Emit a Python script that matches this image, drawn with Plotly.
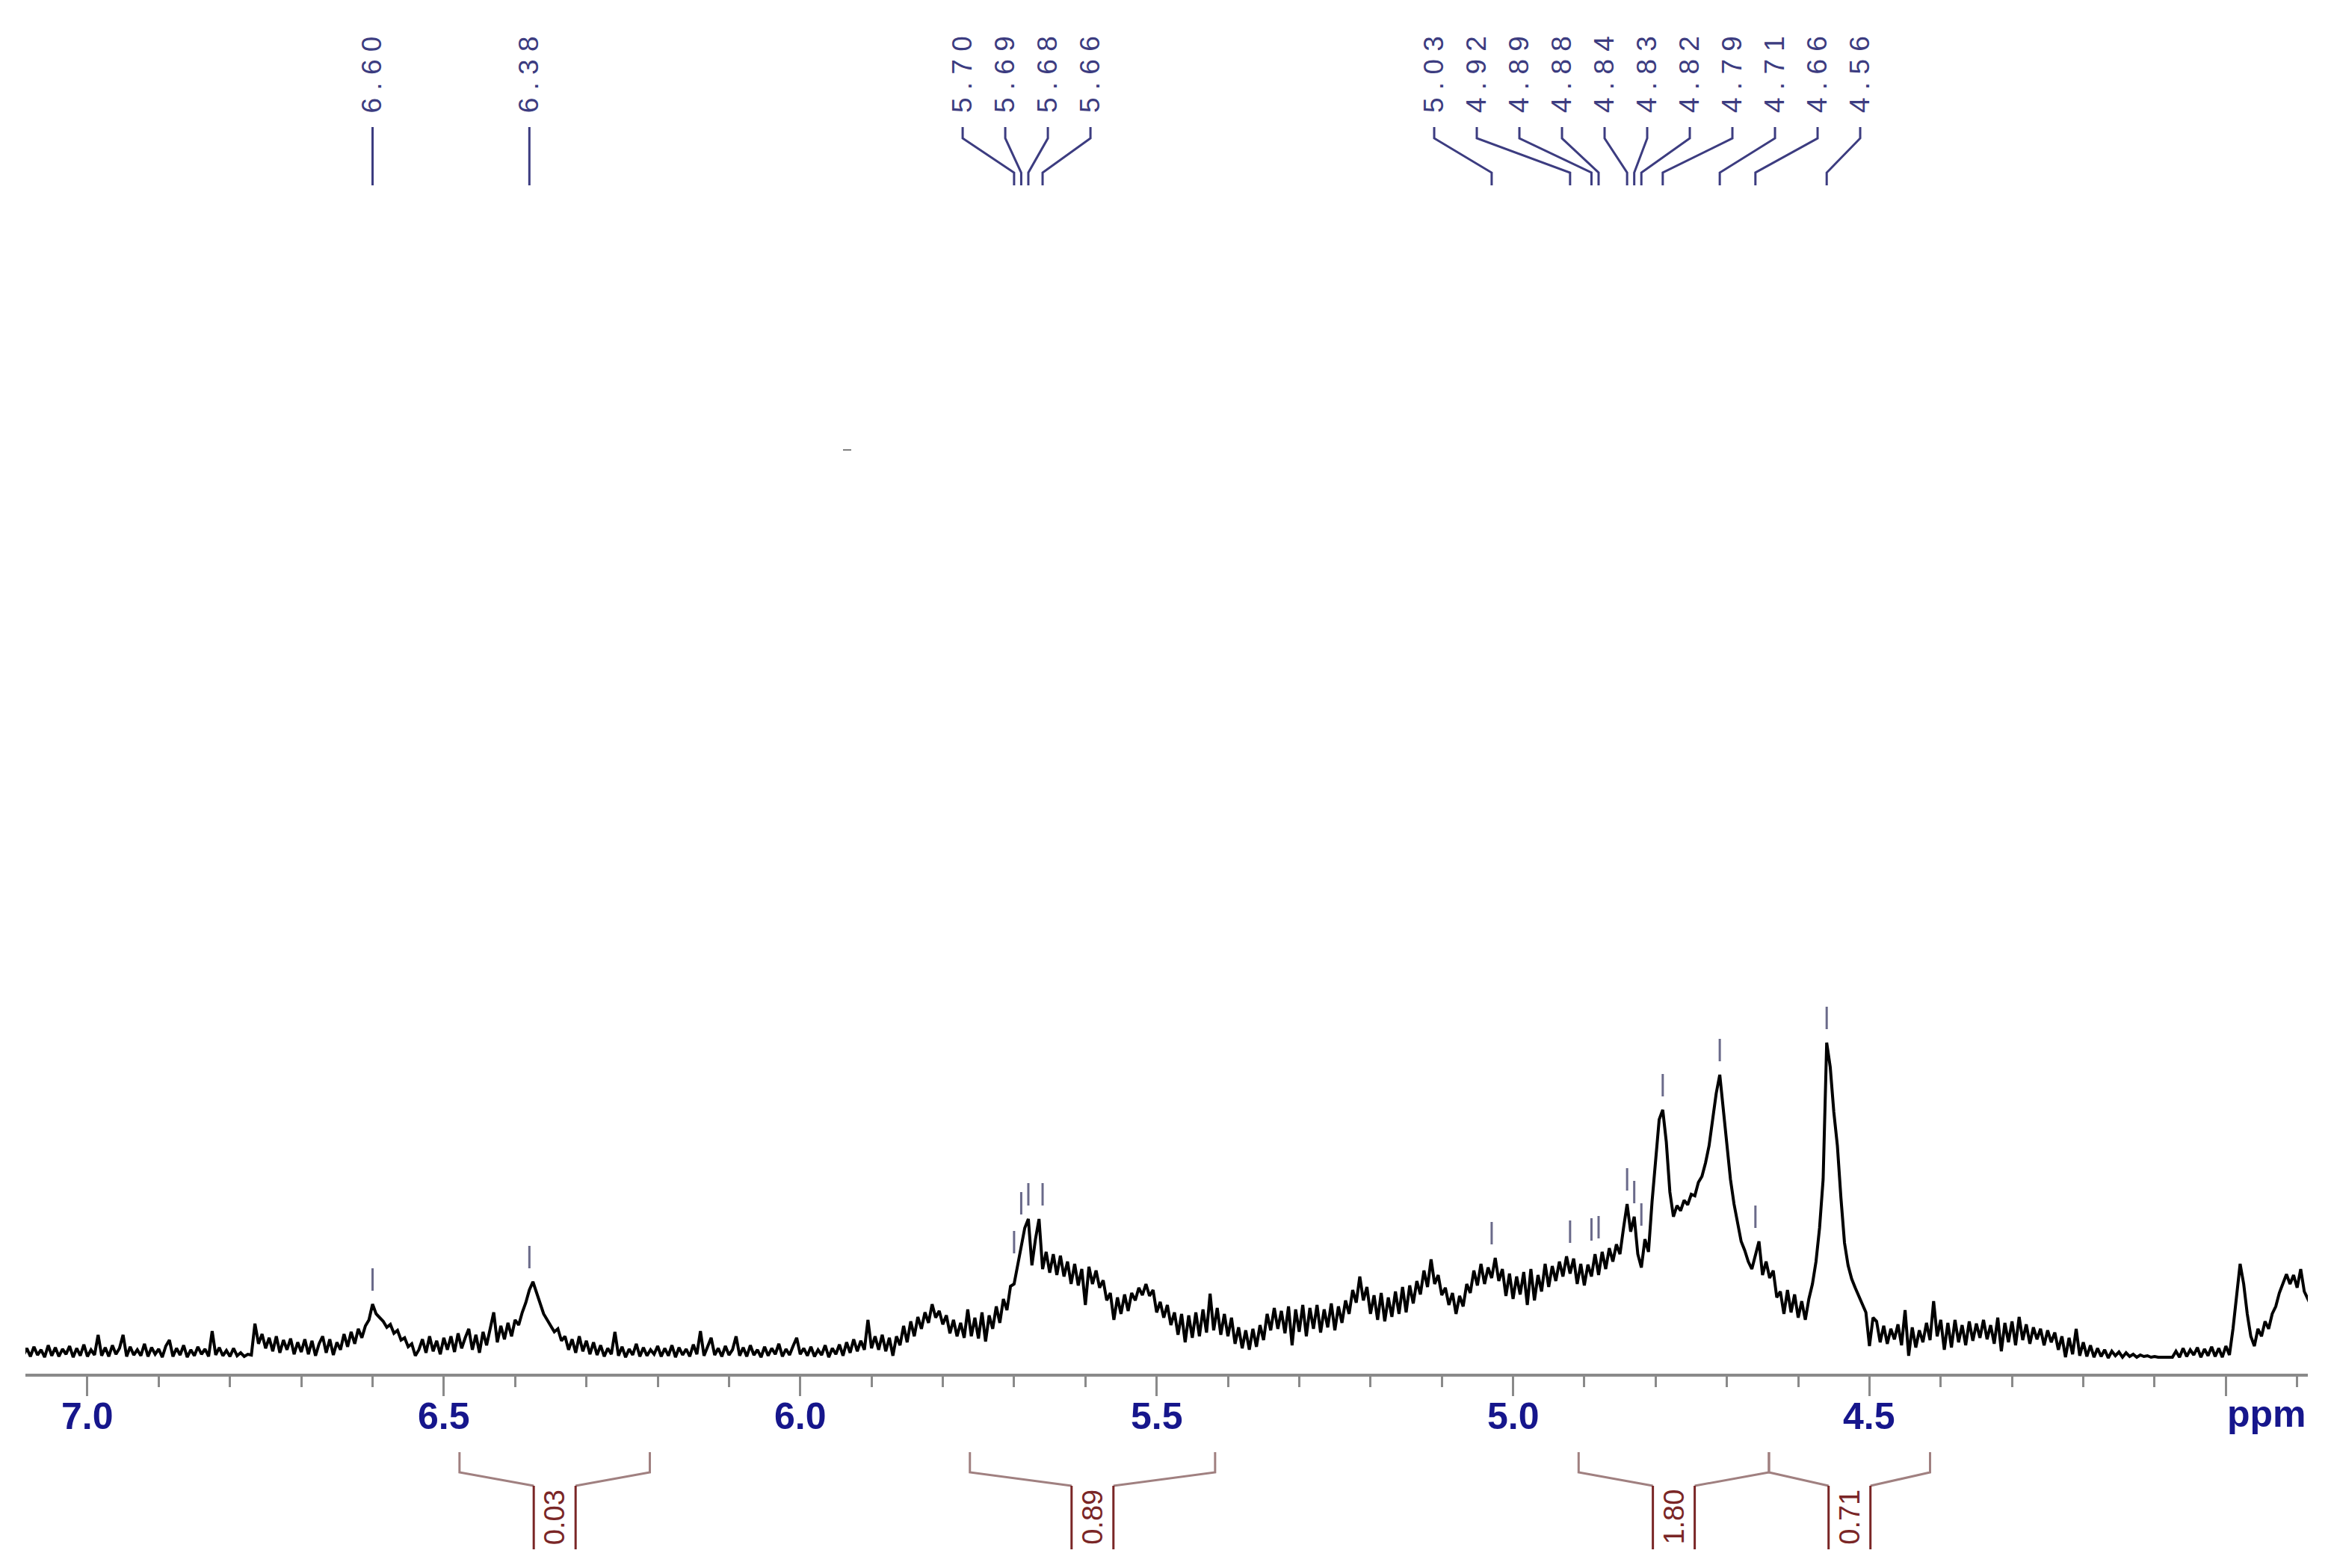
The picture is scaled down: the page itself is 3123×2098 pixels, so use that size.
import numpy as np
import plotly.graph_objects as go

# 1H NMR trace: 0.005 ppm steps from 7.09 down to 3.88
# (one row = 0.1 ppm), intensity in screen px above the baseline
ppm_start = 7.09
ppm_step = 0.005
intensity = [
    4, 14, 3, 16, 5, 12, 2, 18, 4, 15, 3, 13, 6, 17, 2, 14, 4, 19, 3, 12,           # 7.09
    5, 32, 4, 15, 3, 18, 6, 14, 32, 3, 16, 5, 12, 4, 20, 3, 15, 6, 13, 2,           # 6.99
    17, 25, 3, 14, 5, 18, 2, 12, 4, 16, 6, 13, 3, 37, 5, 15, 4, 11, 3, 14,          # 6.89
    4, 8, 3, 6, 5, 47, 20, 33, 14, 28, 10, 30, 8, 25, 12, 27, 6, 22, 9, 26,         # 6.79
    6, 24, 4, 20, 30, 8, 26, 5, 22, 12, 33, 16, 36, 20, 40, 28, 44, 52, 73, 60,     # 6.69
    55, 50, 42, 46, 34, 38, 25, 28, 16, 20, 4, 12, 26, 8, 30, 10, 24, 6, 28, 12,    # 6.59
    30, 9, 34, 14, 28, 40, 12, 32, 8, 36, 18, 40, 62, 22, 44, 26, 48, 30, 52, 45,   # 6.49
    62, 75, 92, 103, 88, 76, 60, 52, 44, 36, 40, 24, 30, 12, 26, 8, 30, 10, 24, 6,  # 6.39
    22, 5, 18, 3, 14, 6, 36, 4, 16, 2, 13, 5, 20, 3, 15, 4, 12, 6, 17, 3,           # 6.29
    14, 4, 18, 2, 15, 5, 13, 3, 19, 6, 37, 4, 16, 28, 5, 14, 3, 17, 5, 12,          # 6.19
    30, 4, 15, 3, 18, 5, 12, 2, 16, 4, 14, 6, 20, 3, 13, 5, 17, 28, 6, 14,          # 6.09
    4, 16, 3, 12, 5, 18, 2, 14, 6, 19, 4, 22, 8, 26, 10, 24, 12, 52, 14, 30,        # 5.99
    12, 32, 10, 28, 4, 30, 18, 44, 22, 50, 30, 56, 40, 62, 48, 73, 55, 64, 46, 58,  # 5.89
    34, 52, 30, 48, 28, 66, 30, 55, 27, 62, 23, 58, 40, 70, 48, 80, 65, 97, 100, 123,       # 5.79
    150, 175, 187, 125, 160, 187, 120, 143, 115, 140, 112, 138, 110, 130, 100, 127, 98, 120, 72, 123,  # 5.69
    100, 118, 95, 105, 78, 88, 52, 82, 60, 86, 64, 88, 78, 95, 85, 100, 84, 92, 62, 76,     # 5.59
    55, 72, 45, 62, 32, 60, 22, 58, 28, 62, 30, 66, 35, 87, 38, 68, 32, 60, 30, 55,         # 5.49
    20, 42, 14, 38, 12, 40, 16, 45, 25, 60, 38, 68, 40, 64, 34, 70, 18, 66, 36, 72,         # 5.39
    30, 68, 40, 72, 35, 66, 42, 74, 38, 70, 48, 78, 60, 92, 75, 110, 78, 96, 60, 85,        # 5.29
    52, 88, 50, 82, 56, 90, 60, 96, 62, 98, 74, 104, 86, 118, 96, 133, 100, 112, 85, 95,    # 5.19
    72, 88, 60, 84, 70, 100, 88, 118, 98, 127, 100, 122, 108, 135, 104, 120, 84, 114, 80, 110,       # 5.09
    86, 116, 72, 120, 78, 112, 90, 127, 96, 124, 104, 130, 110, 137, 114, 134, 100, 127, 98, 126,    # 4.99
    110, 140, 112, 143, 120, 148, 130, 153, 140, 175, 207, 170, 190, 140, 122, 160, 143, 210, 270, 320,  # 4.89
    333, 290, 223, 190, 205, 198, 212, 206, 220, 218, 236, 244, 262, 285, 320, 355, 380, 330, 290, 240,  # 4.79
    207, 180, 157, 145, 130, 120, 140, 157, 112, 130, 108, 118, 82, 90, 60, 92, 62, 86, 55, 77,      # 4.69
    52, 80, 100, 130, 175, 240, 423, 390, 330, 285, 215, 155, 125, 107, 95, 85, 73, 62, 17, 55,      # 4.59
    50, 22, 44, 20, 40, 26, 46, 18, 65, 4, 42, 15, 38, 22, 48, 25, 77, 30, 52, 12,          # 4.49
    48, 15, 52, 22, 45, 18, 50, 24, 47, 28, 52, 26, 45, 20, 55, 10, 48, 22, 50, 18,         # 4.39
    56, 25, 46, 20, 42, 26, 40, 18, 38, 22, 35, 12, 30, 2, 28, 6, 40, 4, 22, 3,             # 4.29
    18, 2, 14, 3, 12, 1, 10, 4, 9, 2, 8, 3, 6, 2, 5, 3, 4, 2, 3, 2,                         # 4.19
    2, 3, 2, 2, 10, 2, 14, 3, 12, 5, 15, 2, 13, 4, 16, 3, 14, 2, 17, 5,                     # 4.09
    40, 85, 127, 100, 60, 30, 17, 40, 30, 50, 40, 60, 70, 88, 100, 113, 100, 112, 95, 120,  # 3.99
    90, 80, 70,                                                                             # 3.89
]
ppm = np.round(ppm_start - ppm_step * np.arange(len(intensity)), 3)

# picked peaks, grouped the way the labels are fanned out
peak_groups = [
    [6.60],
    [6.38],
    [5.70, 5.69, 5.68, 5.66],
    [5.03, 4.92, 4.89, 4.88, 4.84, 4.83, 4.82, 4.79, 4.71, 4.66, 4.56],
]

# integrals
int_from = [6.478, 5.762, 4.908, 4.641]
int_to = [6.211, 5.418, 4.641, 4.415]
int_labels = ["0.03", "0.89", "1.80", "0.71"]

tick_vals = [7.0, 6.5, 6.0, 5.5, 5.0, 4.5, 4.0]
tick_text = ["7.0", "6.5", "6.0", "5.5", "5.0", "4.5", ""]

W, H = 3123, 2098
LEFT, RIGHT, BOTTOM = 26, 3080, 1830   # plot area in screen px
X0, X1 = 7.087, 3.885
PEAK_COL = "#3c3c80"
INT_COL = "#7a2626"
BRACKET_COL = "#a08080"
TICK_COL = "#16168c"


def xp(v):
    return (X0 - v) / (X0 - X1)


def yp(py):
    return (BOTTOM - py) / BOTTOM


fig = go.Figure()
fig.add_trace(go.Scatter(x=ppm, y=intensity, mode="lines",
                         line=dict(color="black", width=4), showlegend=False))

shapes = []
annotations = []

# peak labels on top with fanned connectors, and pick markers above the trace
pitch = 57 / (RIGHT - LEFT)
for group in peak_groups:
    centre = np.mean([xp(p) for p in group])
    n = len(group)
    for i, p in enumerate(group):
        lx = centre + (i - (n - 1) / 2) * pitch
        px = xp(p)
        shapes.append(dict(type="path", xref="paper", yref="paper",
                           path=f"M {lx},{yp(162)} L {lx},{yp(177)} L {px},{yp(223)} L {px},{yp(240)}",
                           line=dict(color=PEAK_COL, width=3)))
        annotations.append(dict(x=lx, y=yp(92), xref="paper", yref="paper",
                                text=" ".join(f"{p:.2f}"), textangle=-90, showarrow=False,
                                xanchor="center", yanchor="middle",
                                font=dict(family="Liberation Sans", size=37, color=PEAK_COL)))
        near = [v for q, v in zip(ppm, intensity) if abs(q - p) <= 0.006]
        top = max(near)
        shapes.append(dict(type="line", xref="x", yref="y", x0=p, x1=p, y0=top + 18, y1=top + 48,
                           line=dict(color="#6a6a8a", width=3)))

# integral brackets under the axis
half = 28 / (RIGHT - LEFT)
for a, b, lab in zip(int_from, int_to, int_labels):
    xa, xb = xp(a), xp(b)
    xc = (xa + xb) / 2
    shapes.append(dict(type="path", xref="paper", yref="paper",
                       path=(f"M {xa},{yp(1935)} L {xa},{yp(1962)} L {xc - half},{yp(1980)} "
                             f"M {xb},{yp(1935)} L {xb},{yp(1962)} L {xc + half},{yp(1980)}"),
                       line=dict(color=BRACKET_COL, width=3)))
    for xx in (xc - half, xc + half):
        shapes.append(dict(type="line", xref="paper", yref="paper",
                           x0=xx, x1=xx, y0=yp(1980), y1=yp(2065),
                           line=dict(color=INT_COL, width=3)))
    annotations.append(dict(x=xc, y=yp(2022), xref="paper", yref="paper", text=lab,
                            textangle=-90, showarrow=False, xanchor="center", yanchor="middle",
                            font=dict(family="Liberation Sans", size=38, color=INT_COL)))

# axis numbers and unit, placed just under the ticks
for v, t in zip(tick_vals, tick_text):
    if t:
        annotations.append(dict(x=xp(v), y=yp(1887), xref="paper", yref="paper", text=f"<b>{t}</b>",
                                showarrow=False, xanchor="center", yanchor="middle",
                                font=dict(family="Liberation Sans", size=50, color=TICK_COL)))
annotations.append(dict(x=xp(3.943), y=yp(1884), xref="paper", yref="paper", text="<b>ppm</b>",
                        showarrow=False, xanchor="center", yanchor="middle",
                        font=dict(family="Liberation Sans", size=50, color=TICK_COL)))

# small stray dash in the empty area
shapes.append(dict(type="line", xref="paper", yref="paper",
                   x0=(1120 - LEFT) / (RIGHT - LEFT), x1=(1131 - LEFT) / (RIGHT - LEFT),
                   y0=yp(594), y1=yp(594), line=dict(color="#808080", width=2)))

minor_vals = [round(7.0 - 0.1 * k, 1) for k in range(32) if k % 5]

fig.update_layout(
    width=W, height=H,
    margin=dict(l=LEFT, r=W - RIGHT, t=0, b=H - BOTTOM),
    plot_bgcolor="white", paper_bgcolor="white",
    shapes=shapes, annotations=annotations,
    xaxis=dict(range=[X0, X1], showgrid=False, zeroline=False,
               showline=True, linecolor="#8a8a8a", linewidth=4,
               ticks="outside", ticklen=26, tickwidth=3, tickcolor="#8a8a8a",
               tickmode="array", tickvals=tick_vals, showticklabels=False,
               minor=dict(tickmode="array", tickvals=minor_vals, ticks="outside",
                          ticklen=14, tickwidth=3, tickcolor="#8a8a8a")),
    yaxis=dict(range=[-20, 1810], visible=False),
)

fig.write_html("out.html")
